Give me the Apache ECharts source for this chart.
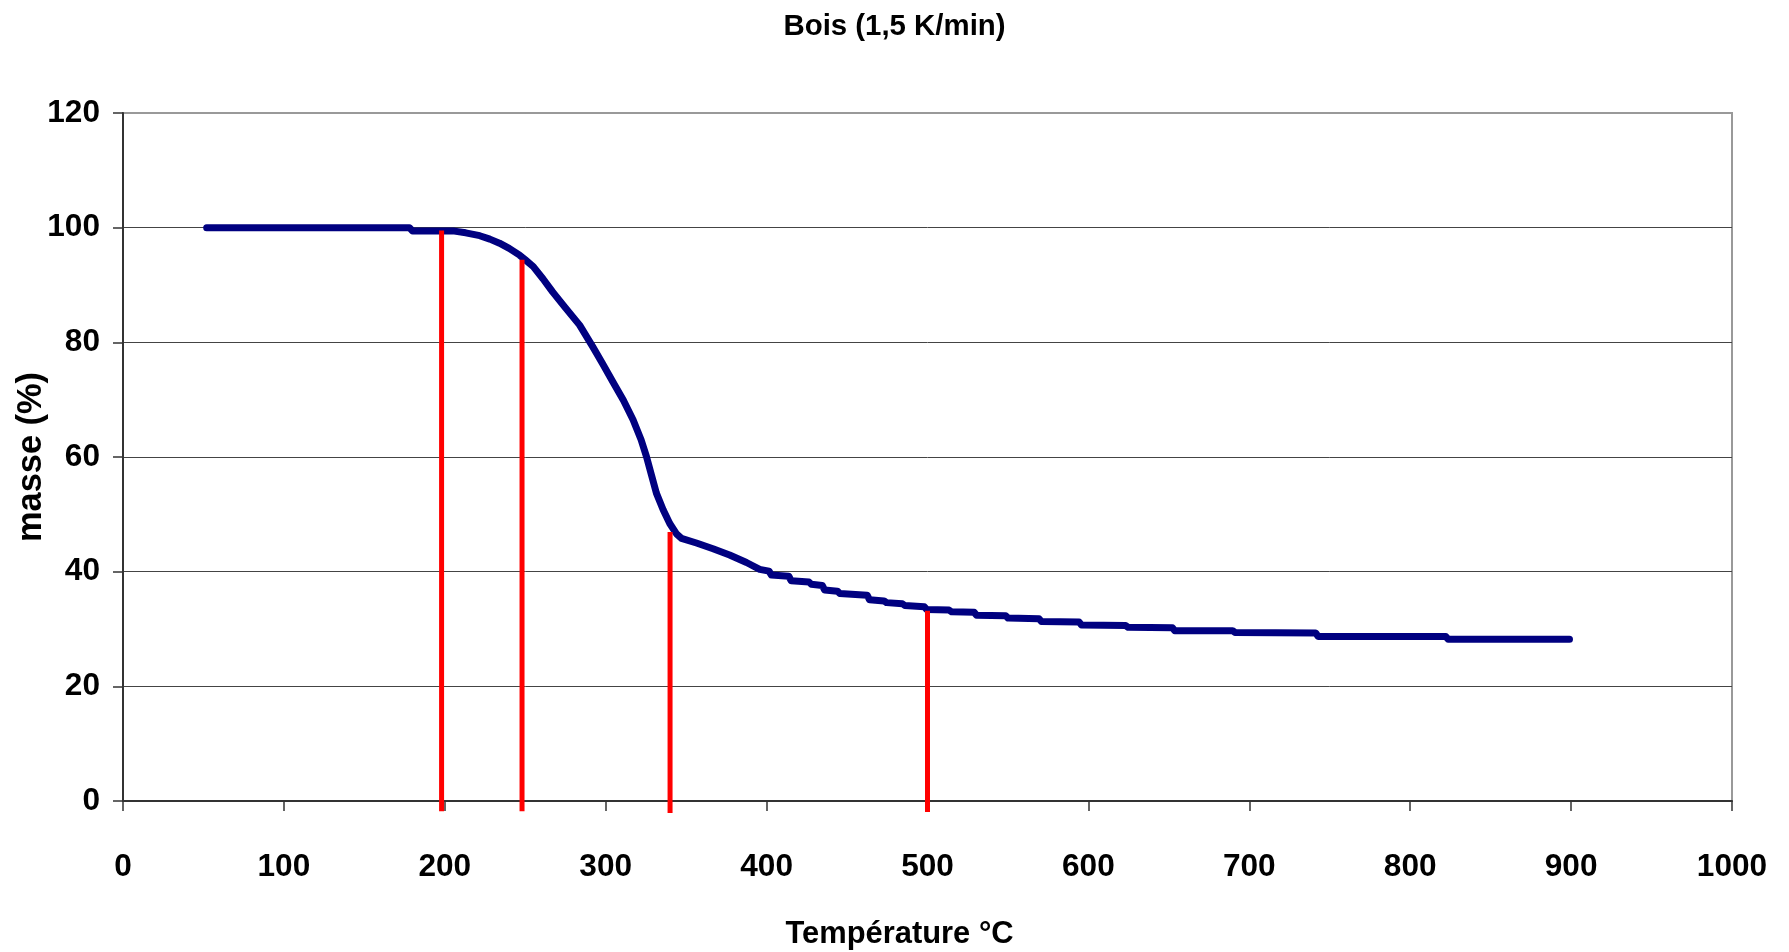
<!DOCTYPE html>
<html>
<head>
<meta charset="utf-8">
<title>Bois (1,5 K/min)</title>
<script src="https://cdn.jsdelivr.net/npm/echarts@6/dist/echarts.min.js"></script>
<style>
  html, body { margin: 0; padding: 0; background: #ffffff; }
  #chart { width: 1789px; height: 952px; }
</style>
</head>
<body>
<div id="chart"></div>
<script>
// Thermogravimetric curve of wood heated at 1.5 K/min
const temperature = [
  52, 178, 180, 206, 213, 221.7, 228, 234, 240, 246.5, 250, 255, 261, 267, 275,
  283.8, 292, 298, 304.5, 311, 317, 322, 325.3, 328.5, 331.5, 335.7, 339.8, 344,
  347.1, 356.4, 366.7, 377, 387.5, 395.7, 401.5, 403, 413.8, 415.3, 426.3, 427.8,
  434.6, 436.1, 444, 445.5, 462.5, 464, 473, 474.5, 484.4, 485.9, 498, 499.5,
  513.4, 515, 529, 530.5, 548.6, 550.1, 569.3, 570.8, 594.2, 595.7, 623.2, 624.7,
  652.2, 653.7, 689.6, 691.1, 741.3, 742.8, 822.1, 823.6, 899
];
const masse = [
  100, 100, 99.4, 99.4, 99.1, 98.6, 98.0, 97.3, 96.4, 95.2, 94.4, 93.2, 91.1, 88.8, 86.0,
  83.0, 79.2, 76.3, 73.1, 69.9, 66.5, 63.0, 60.1, 56.8, 53.7, 50.8, 48.4, 46.6,
  45.8, 45.0, 44.0, 42.9, 41.6, 40.4, 40.1, 39.4, 39.2, 38.4, 38.2, 37.8,
  37.6, 36.8, 36.6, 36.2, 35.9, 35.1, 34.9, 34.6, 34.4, 34.1, 33.9, 33.4,
  33.3, 33.0, 32.9, 32.4, 32.3, 31.9, 31.8, 31.3, 31.2, 30.7, 30.6, 30.3,
  30.2, 29.7, 29.7, 29.4, 29.3, 28.7, 28.7, 28.2, 28.2
];

// Characteristic temperatures marked by vertical red lines
const markTemps = [198, 248, 340, 500];
const markTops = [99.5, 94.4, 46.9, 33.2];
const markBottoms = [-1.8, -1.8, -2.1, -1.9];

const xTicks = { min: 0, max: 1000, interval: 100 };
const yTicks = { min: 0, max: 120, interval: 20 };

const titleText = 'Bois (1,5 K/min)';
const xName = 'Température °C';
const yName = 'masse (%)';

// Prefer a narrow face for the labels when one is installed
const measureCtx = document.createElement('canvas').getContext('2d');
function textWidth(font, text) {
  measureCtx.font = 'bold 100px ' + font;
  return measureCtx.measureText(text).width;
}
function pickFace(candidates) {
  const probe = 'Température 0123456789 masse';
  const ref = textWidth('monospace', probe);
  for (const f of candidates) {
    if (Math.abs(textWidth('"' + f + '", monospace', probe) - ref) > 0.5) return f;
  }
  return 'Liberation Sans';
}
const face = pickFace(['Liberation Sans Narrow', 'Liberation Sans', 'Roboto']);
function sizeFor(text, width, capPx, stretch) {
  const fit = width / textWidth('"' + face + '"', text) * 100;
  return Math.round(Math.min(fit * stretch, capPx / 0.72) * 10) / 10;
}
const tickSize = sizeFor('500', 47, 28, 1.12);
const titleSize = sizeFor(titleText, 218, 23, 1.02);
const xNameSize = sizeFor(xName, 228, 28, 1.0);
const yNameSize = sizeFor(yName, 170, 26, 1.0);

const curve = temperature.map((t, i) => [t, masse[i]]);
const markSeries = markTemps.map((t, i) => ({
  type: 'line',
  data: [[t, markBottoms[i]], [t, markTops[i]]],
  showSymbol: false,
  clip: false,
  silent: true,
  z: 4,
  lineStyle: { color: '#ff0000', width: 5, cap: 'butt' }
}));

const chart = echarts.init(document.getElementById('chart'));
chart.setOption({
  animation: false,
  backgroundColor: '#ffffff',
  textStyle: { fontFamily: face },
  title: {
    text: titleText,
    left: 'center',
    top: 25 - titleSize * 0.6,
    textStyle: { fontFamily: face, fontSize: titleSize, fontWeight: 'bold', color: '#000' }
  },
  grid: {
    left: 123, right: 57, top: 113, bottom: 151,
    outerBoundsMode: 'none',
    containLabel: false,
    show: true, borderColor: '#999999', borderWidth: 2, backgroundColor: 'transparent'
  },
  xAxis: {
    type: 'value',
    min: xTicks.min, max: xTicks.max, interval: xTicks.interval,
    name: xName,
    nameLocation: 'middle',
    nameGap: 118,
    nameTextStyle: {
      fontFamily: face, fontSize: xNameSize, fontWeight: 'bold', color: '#000',
      padding: [0, 56, 0, 0]
    },
    axisLine: { show: true, lineStyle: { color: '#333', width: 2 } },
    axisTick: { show: true, inside: false, length: 10, lineStyle: { color: '#333', width: 1.5 } },
    axisLabel: {
      margin: 50, fontFamily: face, fontSize: tickSize, fontWeight: 'bold', color: '#000',
      formatter: (v) => String(v)
    },
    splitLine: { show: false }
  },
  yAxis: {
    type: 'value',
    min: yTicks.min, max: yTicks.max, interval: yTicks.interval,
    name: yName,
    nameLocation: 'middle',
    nameGap: 74,
    nameMoveOverlap: false,
    nameRotate: 90,
    nameTextStyle: { fontFamily: face, fontSize: yNameSize, fontWeight: 'bold', color: '#000' },
    axisLine: { show: true, lineStyle: { color: '#333', width: 2 } },
    axisTick: { show: true, inside: false, length: 10, lineStyle: { color: '#333', width: 1.5 } },
    axisLabel: {
      margin: 23, fontFamily: face, fontSize: tickSize, fontWeight: 'bold', color: '#000',
      formatter: (v) => String(v)
    },
    splitLine: {
      show: true,
      lineStyle: { color: ['#444', '#444', '#444', '#444', '#444', '#444', '#999'], width: 1 }
    }
  },
  series: [
    {
      type: 'line',
      data: curve,
      showSymbol: false,
      silent: true,
      z: 3,
      lineStyle: { color: '#000080', width: 7, cap: 'round', join: 'round' }
    }
  ].concat(markSeries)
});
</script>
</body>
</html>
